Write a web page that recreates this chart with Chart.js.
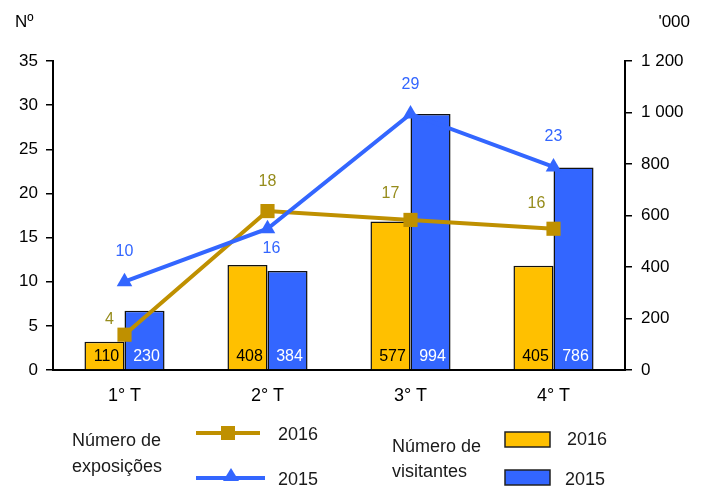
<!DOCTYPE html>
<html>
<head>
<meta charset="utf-8">
<script src="https://cdn.jsdelivr.net/npm/chart.js@4.4.0/dist/chart.umd.min.js"></script>
<style>
  html, body { margin: 0; padding: 0; background: #fff; }
</style>
</head>
<body>
<canvas id="chart" width="704" height="489"></canvas>
<script>
// data
var categories = ["1° T", "2° T", "3° T", "4° T"];
var exposicoes_2016 = [4, 18, 17, 16];
var exposicoes_2015 = [10, 16, 29, 23];
var visitantes_2016 = [110, 408, 577, 405];
var visitantes_2015 = [230, 384, 994, 786];
var ticks_left = [0, 5, 10, 15, 20, 25, 30, 35];
var ticks_right = [0, 200, 400, 600, 800, 1000, 1200];

// where the line value labels sit relative to their point (px)
var offsets_2016 = [[-15, -15], [0, -29], [-20, -26], [-17, -25]];
var offsets_2015 = [[0, -30], [4, 20], [0, -29], [0, -30]];

var FONT = '"Liberation Sans", Arial, sans-serif';
var GOLD = "#BF9000";
var BLUE = "#3366FF";
var BAR_GOLD = "#FFC000";
var OLIVE = "#968C1C";

function fmtThousands(v) {
  if (v >= 1000) {
    return Math.floor(v / 1000) + " " + String(v % 1000).padStart(3, "0");
  }
  return String(v);
}

var extras = {
  id: "extras",
  afterDatasetsDraw: function (chart) {
    var ctx = chart.ctx;
    ctx.save();
    ctx.textAlign = "center";
    ctx.textBaseline = "middle";
    ctx.font = "16px " + FONT;

    // bar labels, near the bottom of each bar
    var bottom = chart.scales.y1.getPixelForValue(0);
    chart.getDatasetMeta(2).data.forEach(function (bar, i) {
      ctx.fillStyle = "#000";
      ctx.fillText(String(visitantes_2016[i]), bar.x + 2, bottom - 13);
    });
    chart.getDatasetMeta(3).data.forEach(function (bar, i) {
      ctx.fillStyle = "#fff";
      ctx.fillText(String(visitantes_2015[i]), bar.x + 2, bottom - 13);
    });

    // line labels
    chart.getDatasetMeta(0).data.forEach(function (pt, i) {
      ctx.fillStyle = OLIVE;
      ctx.fillText(String(exposicoes_2016[i]), pt.x + offsets_2016[i][0], pt.y + offsets_2016[i][1]);
    });
    chart.getDatasetMeta(1).data.forEach(function (pt, i) {
      ctx.fillStyle = BLUE;
      ctx.fillText(String(exposicoes_2015[i]), pt.x + offsets_2015[i][0], pt.y + offsets_2015[i][1]);
    });
    ctx.restore();
  },
  afterDraw: function (chart) {
    var ctx = chart.ctx;
    ctx.save();
    ctx.textBaseline = "middle";
    ctx.fillStyle = "#000";
    ctx.font = "17px " + FONT;
    ctx.textAlign = "left";
    ctx.fillText("Nº", 15, 22);
    ctx.textAlign = "right";
    ctx.fillText("'000", 690, 22);

    // legend
    ctx.font = "18px " + FONT;
    ctx.textAlign = "left";
    ctx.fillStyle = "#1a1a1a";
    ctx.fillText("Número de", 72, 441);
    ctx.fillText("exposições", 72, 467);
    ctx.fillText("2016", 278, 435);
    ctx.fillText("2015", 278, 480);
    ctx.fillText("Número de", 392, 447);
    ctx.fillText("visitantes", 392, 472);
    ctx.fillText("2016", 567, 440);
    ctx.fillText("2015", 565, 480);

    ctx.lineWidth = 4;
    ctx.strokeStyle = GOLD;
    ctx.beginPath(); ctx.moveTo(196, 433); ctx.lineTo(260, 433); ctx.stroke();
    ctx.fillStyle = GOLD;
    ctx.fillRect(221, 426, 14, 14);

    ctx.strokeStyle = BLUE;
    ctx.beginPath(); ctx.moveTo(196, 478); ctx.lineTo(265, 478); ctx.stroke();
    ctx.fillStyle = BLUE;
    ctx.beginPath(); ctx.moveTo(231, 468); ctx.lineTo(239, 481); ctx.lineTo(223, 481); ctx.closePath(); ctx.fill();

    ctx.lineWidth = 1.5;
    ctx.strokeStyle = "#222";
    ctx.fillStyle = BAR_GOLD;
    ctx.fillRect(505, 432, 45, 15); ctx.strokeRect(505, 432, 45, 15);
    ctx.fillStyle = BLUE;
    ctx.fillRect(505, 470, 45, 15); ctx.strokeRect(505, 470, 45, 15);
    ctx.restore();
  }
};

new Chart(document.getElementById("chart"), {
  type: "bar",
  data: {
    labels: categories,
    datasets: [
      {
        type: "line", label: "2016", data: exposicoes_2016, yAxisID: "y",
        borderColor: GOLD, backgroundColor: GOLD, borderWidth: 4,
        pointStyle: "rect", pointRadius: 10, pointBorderWidth: 0, order: 1
      },
      {
        type: "line", label: "2015", data: exposicoes_2015, yAxisID: "y",
        borderColor: BLUE, backgroundColor: BLUE, borderWidth: 4,
        pointStyle: "triangle", pointRadius: 9, pointBorderWidth: 0, order: 0
      },
      {
        label: "2016", data: visitantes_2016, yAxisID: "y1",
        backgroundColor: BAR_GOLD, borderColor: "#111", borderWidth: 1.5,
        categoryPercentage: 0.56, barPercentage: 1, order: 2
      },
      {
        label: "2015", data: visitantes_2015, yAxisID: "y1",
        backgroundColor: BLUE, borderColor: "#111", borderWidth: 1.5,
        categoryPercentage: 0.56, barPercentage: 1, order: 3
      }
    ]
  },
  options: {
    responsive: false,
    animation: false,
    devicePixelRatio: 1,
    layout: { padding: { top: 61, bottom: 79, left: 0, right: 0 } },
    plugins: {
      legend: { display: false },
      tooltip: { enabled: false }
    },
    scales: {
      x: {
        grid: { display: false, drawTicks: false },
        border: { display: true, color: "#000", width: 2 },
        ticks: { color: "#000", padding: 15, font: { family: FONT, size: 18 } },
        afterFit: function (s) { s.height = 40; }
      },
      y: {
        position: "left",
        min: 0, max: 35,
        afterBuildTicks: function (s) { s.ticks = ticks_left.map(function (v) { return { value: v }; }); },
        grid: { drawOnChartArea: false, drawTicks: true, tickLength: 7, color: "#000", lineWidth: 1.5 },
        border: { display: true, color: "#000", width: 2 },
        ticks: { color: "#000", padding: 8, font: { family: FONT, size: 17 } },
        afterFit: function (s) { s.width = 53; }
      },
      y1: {
        position: "right",
        min: 0, max: 1200,
        afterBuildTicks: function (s) { s.ticks = ticks_right.map(function (v) { return { value: v }; }); },
        grid: { drawOnChartArea: false, drawTicks: true, tickLength: 7, color: "#000", lineWidth: 1.5 },
        border: { display: true, color: "#000", width: 2 },
        ticks: {
          color: "#000", padding: 9, font: { family: FONT, size: 17 },
          callback: function (v) { return fmtThousands(v); }
        },
        afterFit: function (s) { s.width = 79; }
      }
    }
  },
  plugins: [extras]
});
</script>
</body>
</html>
